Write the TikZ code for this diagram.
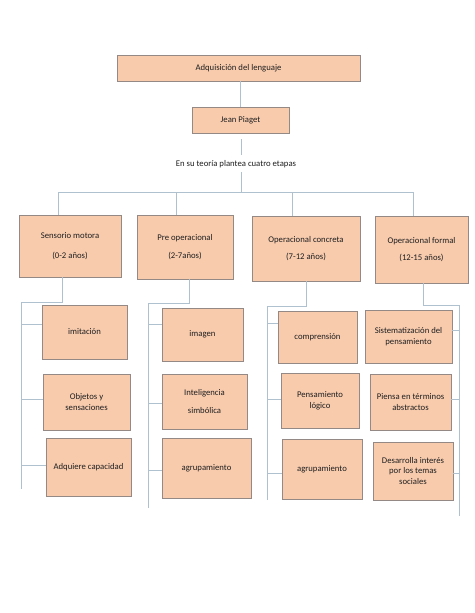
\documentclass[tikz,border=0pt]{standalone}
\usepackage{fontspec}
\setmainfont{Carlito}
\begin{document}
\begin{tikzpicture}[x=1pt,y=-1pt,
  box/.style={draw=boxline,fill=boxfill,line width=0.9pt,inner sep=0pt,align=center,font=\fontsize{8.7}{10.5}\selectfont,text=txt},
  conn/.style={draw=conncol,line width=0.9pt},
  lbl/.style={inner sep=0pt,font=\fontsize{8.7}{10.5}\selectfont,text=txt}]
\definecolor{boxfill}{HTML}{F8CBAD}
\definecolor{boxline}{HTML}{958985}
\definecolor{conncol}{HTML}{AFC0CE}
\definecolor{txt}{HTML}{1F1F1F}
\useasboundingbox (0,0) rectangle (474,613);
\fill[white] (0,0) rectangle (474,613);
% top
\node[box,minimum width=243,minimum height=26] (top) at (238.5,68) {Adquisición del lenguaje};
\node[box,minimum width=97,minimum height=26] (jp) at (240.5,120) {Jean Piaget};
\node[lbl,minimum height=17] (etapas) at (236,164.5) {En su teoría plantea cuatro etapas};
\coordinate (h) at (241,192);
\draw[conn] (top.south -| jp.north) -- (jp.north);
\draw[conn] (241,139) -- (241,155);
\draw[conn] (241,172) -- (h);
% stages
\node[box,minimum width=102,minimum height=62] (s1) at (70,246) {Sensorio motora\\[9pt](0-2 años)};
\node[box,minimum width=96,minimum height=64] (s2) at (185,247) {Pre operacional\\[7pt](2-7años)};
\node[box,minimum width=108,minimum height=65] (s3) at (306,248.5) {Operacional concreta\\[7pt](7-12 años)};
\node[box,minimum width=93,minimum height=67] (s4) at (421.5,249.5) {Operacional formal\\[7pt](12-15 años)};
\draw[conn] (58,215) -- (58,192) -- (413,192) -- (413,216);
\draw[conn] (176,192) -- (176,215);
\draw[conn] (292,192) -- (292,216);
% column 1
\node[box,minimum width=85,minimum height=54] (c11) at (84.5,332) {imitación};
\node[box,minimum width=87,minimum height=56] (c12) at (86.5,402) {Objetos y\\sensaciones};
\node[box,minimum width=85,minimum height=58] (c13) at (88.5,467) {Adquiere capacidad};
\coordinate (e1) at (21,489);
\draw[conn] (62,277) -- (62,302) -- (21,302) -- (e1);
\draw[conn] (21,324) -- (c11.west |- 21,324);
\draw[conn] (21,399) -- (c12.west |- 21,399);
\draw[conn] (21,465) -- (c13.west |- 21,465);
% column 2
\node[box,minimum width=81,minimum height=53] (c21) at (202.5,334.5) {imagen};
\node[box,minimum width=85,minimum height=55] (c22) at (204.5,401.5) {Inteligencia\\[7pt]simbólica};
\node[box,minimum width=89,minimum height=60] (c23) at (206.5,468) {agrupamiento};
\coordinate (e2) at (148,508);
\draw[conn] (189,279) -- (189,303) -- (148,303) -- (e2);
\draw[conn] (148,324) -- (c21.west |- 148,324);
\draw[conn] (148,403) -- (c22.west |- 148,403);
\draw[conn] (148,470) -- (c23.west |- 148,470);
% column 3
\node[box,minimum width=79,minimum height=52] (c31) at (317.5,337) {comprensión};
\node[box,minimum width=78,minimum height=55] (c32) at (320,400.5) {Pensamiento\\lógico};
\node[box,minimum width=80,minimum height=60] (c33) at (322,469) {agrupamiento};
\coordinate (e3) at (267,500);
\draw[conn] (306,281) -- (306,306) -- (267,306) -- (e3);
\draw[conn] (267,323) -- (c31.west |- 267,323);
\draw[conn] (267,399) -- (c32.west |- 267,399);
\draw[conn] (267,473) -- (c33.west |- 267,473);
% column 4
\node[box,minimum width=87,minimum height=53] (c41) at (408.5,336.5) {Sistematización del\\pensamiento};
\node[box,minimum width=81,minimum height=56] (c42) at (410.5,402) {Piensa en términos\\abstractos};
\node[box,minimum width=80,minimum height=58] (c43) at (413,471) {Desarrolla interés\\por los temas\\sociales};
\coordinate (e4) at (459,516);
\draw[conn] (423,283) -- (423,305) -- (459,305) -- (e4);
\draw[conn] (459,330) -- (c41.east |- 459,330);
\draw[conn] (459,399) -- (c42.east |- 459,399);
\draw[conn] (459,473) -- (c43.east |- 459,473);
\end{tikzpicture}
\end{document}
